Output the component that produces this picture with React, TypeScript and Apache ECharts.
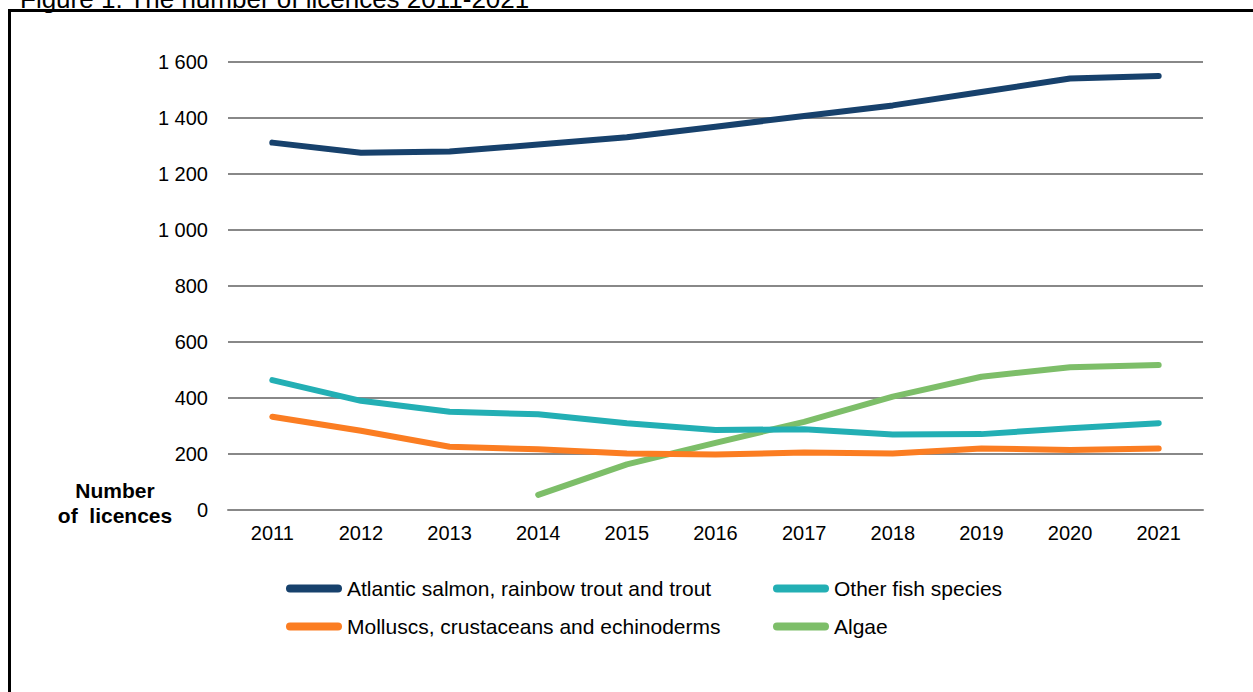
import React, { useEffect, useRef } from "react";
import * as echarts from "echarts";

const years = ["2011", "2012", "2013", "2014", "2015", "2016", "2017", "2018", "2019", "2020", "2021"];
const salmon = [1312, 1276, 1280, 1305, 1331, 1369, 1407, 1445, 1493, 1541, 1550];
const otherFish = [464, 390, 351, 342, 310, 286, 288, 270, 271, 292, 310];
const molluscs = [333, 283, 226, 217, 202, 198, 205, 202, 220, 214, 220];
const algae = [null, null, null, 54, 163, 240, 315, 405, 476, 510, 518];
const seriesNames = [
  "Atlantic salmon, rainbow trout and trout",
  "Other fish species",
  "Molluscs, crustaceans and echinoderms",
  "Algae",
];
const colors = ["#17416C", "#23AFB4", "#FB7D22", "#7DBE69"];
const yTicks = { min: 0, max: 1600, interval: 200 };
const titleText = "Figure 1. The number of licences 2011-2021";
const yAxisTitle = "Number\nof  licences";

const FONT = "'Liberation Sans', Arial, sans-serif";
const ICON = "path://M4,0 L52,0 A4,4 0 0 1 52,8 L4,8 A4,4 0 0 1 4,0 Z";

export default function App() {
  const ref = useRef<HTMLDivElement>(null);
  useEffect(() => {
    document.body.style.margin = "0";
    const chart = echarts.init(ref.current!, null, { renderer: "svg" });
    const data = [salmon, otherFish, molluscs, algae];
    const legendCommon = {
      orient: "vertical",
      padding: 0,
      itemWidth: 56,
      itemHeight: 8,
      itemGap: 17,
      icon: ICON,
      textStyle: { color: "#000", fontSize: 21, fontFamily: FONT },
    };
    chart.setOption({
      animation: false,
      backgroundColor: "#fff",
      textStyle: { fontFamily: FONT },
      grid: { left: 228, right: 50, top: 62, bottom: 182, containLabel: false },
      legend: [
        { ...legendCommon, left: 286, top: 578, data: [seriesNames[0], seriesNames[2]] },
        { ...legendCommon, left: 773, top: 578, data: [seriesNames[1], seriesNames[3]] },
      ],
      xAxis: {
        type: "category",
        data: years,
        boundaryGap: true,
        axisLine: { lineStyle: { color: "#888888", width: 2 } },
        axisTick: { show: false },
        axisLabel: { color: "#000", fontSize: 20, margin: 13, fontFamily: FONT },
      },
      yAxis: {
        type: "value",
        min: yTicks.min,
        max: yTicks.max,
        interval: yTicks.interval,
        axisLine: { show: false },
        axisTick: { show: false },
        splitLine: { lineStyle: { color: "#888888", width: 2 } },
        axisLabel: {
          color: "#000",
          fontSize: 20,
          margin: 20,
          fontFamily: FONT,
          formatter: (v: number) => String(v).replace(/\B(?=(\d{3})+(?!\d))/g, " "),
        },
      },
      series: seriesNames.map((name, i) => ({
        name,
        type: "line",
        data: data[i],
        symbol: "none",
        connectNulls: false,
        color: colors[i],
        lineStyle: { width: 6, color: colors[i], cap: "round", join: "round" },
        z: 10 - i,
      })),
      graphic: [
        {
          type: "rect",
          shape: { x: 9.5, y: 10.5, width: 1300, height: 800 },
          style: { fill: "none", stroke: "#000", lineWidth: 3 },
          z: 100,
        },
        {
          type: "text",
          x: 20,
          y: -1,
          style: {
            text: titleText,
            font: `26px ${FONT}`,
            fill: "#000",
            textVerticalAlign: "middle",
          },
          z: 50,
        },
        {
          type: "text",
          x: 115,
          y: 503,
          style: {
            text: yAxisTitle,
            font: `bold 21px ${FONT}`,
            fill: "#000",
            textAlign: "center",
            textVerticalAlign: "middle",
            lineHeight: 25,
          },
        },
      ],
    });
    return () => chart.dispose();
  }, []);
  return <div ref={ref} style={{ width: 1253, height: 692 }} />;
}
